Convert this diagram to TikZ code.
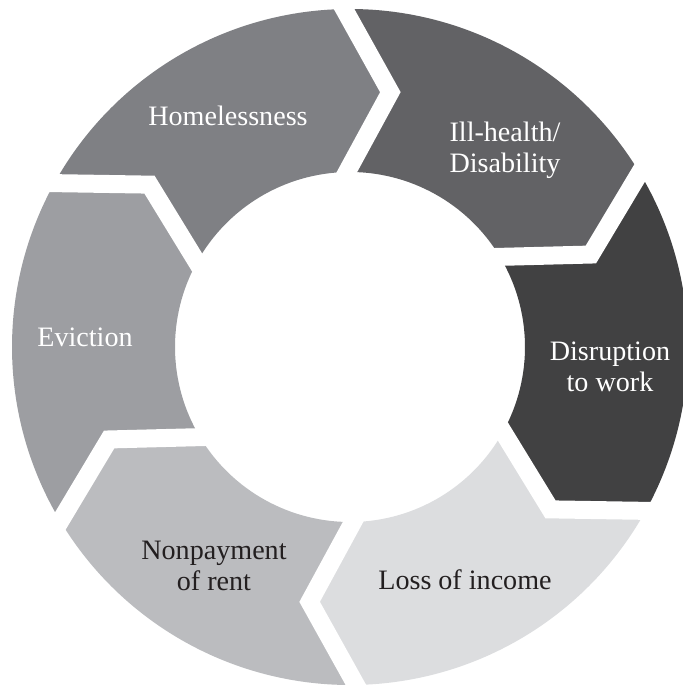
\documentclass[tikz,border=0pt]{standalone}
\usepackage{fontspec}
\setmainfont{Liberation Serif}
\usepackage{tikz}
\usetikzlibrary{calc}

\definecolor{homeC}{RGB}{127,128,132}
\definecolor{illC}{RGB}{98,98,101}
\definecolor{disC}{RGB}{65,65,66}
\definecolor{lossC}{RGB}{220,221,223}
\definecolor{nonC}{RGB}{187,188,191}
\definecolor{evC}{RGB}{157,158,162}
\definecolor{inkC}{RGB}{35,31,32}

\begin{document}
\begin{tikzpicture}[x=0.02cm, y=0.02cm, line join=miter]
\def\ro{338}
\def\ri{175}
\def\rm{258}
\def\tip{10}
\tikzset{
  gap/.style={draw=white, line width=0.36cm},
  lab/.style={font=\fontsize{16}{17.6}\selectfont, align=center},
  lightlab/.style={lab, text=white},
  darklab/.style={lab, text=inkC},
}
\useasboundingbox (-350,-343) rectangle (333,347);

% ring pieces, clockwise from the left top
\foreach \a/\col in {151/homeC, 91/illC, 31/disC, -29/lossC, -89/nonC, -149/evC}
  \fill[\col] (\a:\ro) -- (\a-\tip:\rm) -- (\a:\ri)
    arc[start angle=\a, end angle=\a-60, radius=\ri]
    -- (\a-60-\tip:\rm) -- (\a-60:\ro)
    arc[start angle=\a-60, end angle=\a, radius=\ro] -- cycle;

% white chevron gaps
\foreach \a in {151, 91, 31, -29, -89, -149}
  \draw[gap] ($(\a-\tip:\rm)!1.25!(\a:\ro)$) -- (\a-\tip:\rm) -- ($(\a-\tip:\rm)!1.25!(\a:\ri)$);

\node[lightlab] (home) at (-122,231) {Homelessness};
\node[lightlab] (ill)  at (155,197)  {Ill-health/\\Disability};
\node[lightlab] (dis)  at (260,-20)  {Disruption\\to work};
\node[darklab]  (loss) at (115,-233) {Loss of income};
\node[darklab]  (non)  at (-136,-219) {Nonpayment\\of rent};
\node[lightlab] (ev)   at (-265,10)  {Eviction};
\end{tikzpicture}
\end{document}
